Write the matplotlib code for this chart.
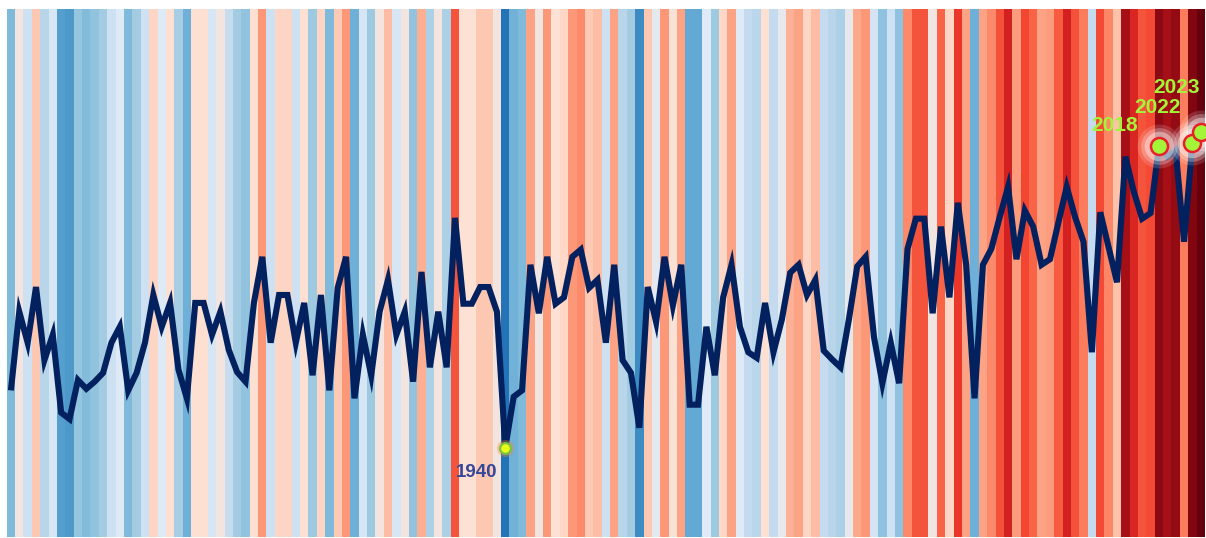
import numpy as np
import matplotlib
matplotlib.use("Agg")
import matplotlib.pyplot as plt
from matplotlib.colors import LinearSegmentedColormap, Normalize

# Annual mean temperature (°C), 1881-2023
years = list(range(1881, 2024))
temps = [
    7.35, 8.34, 7.95, 8.65, 7.73, 8.05, 7.07, 6.99, 7.48, 7.37,
    7.46, 7.57, 7.95, 8.15, 7.35, 7.57, 7.95, 8.55, 8.15, 8.45,
    7.61, 7.25, 8.45, 8.45, 8.05, 8.34, 7.86, 7.58, 7.46, 8.45,
    9.03, 7.95, 8.55, 8.55, 7.95, 8.45, 7.54, 8.55, 7.35, 8.64,
    9.03, 7.25, 8.05, 7.54, 8.34, 8.74, 8.05, 8.34, 7.46, 8.84,
    7.64, 8.34, 7.64, 9.52, 8.44, 8.44, 8.65, 8.65, 8.34, 6.63,
    7.27, 7.35, 8.93, 8.32, 9.03, 8.44, 8.52, 9.03, 9.12, 8.64,
    8.74, 7.95, 8.93, 7.73, 7.57, 6.88, 8.65, 8.21, 9.03, 8.42,
    8.93, 7.17, 7.17, 8.15, 7.54, 8.52, 8.93, 8.15, 7.83, 7.76,
    8.45, 7.83, 8.24, 8.83, 8.93, 8.55, 8.74, 7.85, 7.74, 7.64,
    8.24, 8.91, 9.03, 8.02, 7.44, 7.95, 7.44, 9.13, 9.51, 9.51,
    8.32, 9.41, 8.52, 9.71, 8.93, 7.25, 8.93, 9.13, 9.53, 9.91,
    9.00, 9.61, 9.41, 8.93, 9.00, 9.46, 9.91, 9.53, 9.22, 7.83,
    9.59, 9.15, 8.71, 10.29, 9.85, 9.51, 9.58, 10.42, 10.29, 10.37,
    9.22, 10.46, 10.60,
]
highlight_years = [2018, 2022, 2023]
low_year = 1940

stripe_colors = ['#08306b', '#08519c', '#2171b5', '#4292c6', '#6baed6', '#9ecae1',
                 '#c6dbef', '#deebf7', '#fee0d2', '#fcbba1', '#fc9272', '#fb6a4a',
                 '#ef3b2c', '#cb181d', '#a50f15', '#67000d']
cmap = LinearSegmentedColormap.from_list('stripes', stripe_colors)
norm = Normalize(vmin=6.0, vmax=10.6)

W, H = 1206, 538
fig = plt.figure(figsize=(W / 100, H / 100), dpi=100)
fig.patch.set_facecolor('white')
ax = fig.add_axes([6.7 / W, 1 / H, (1205 - 6.7) / W, (537 - 9) / H])

ymin, ymax = 5.506, 12.147
yr = np.array(years)
xedges = np.concatenate([yr - 0.5, [yr[-1] + 0.5]])
yedges = np.array([ymin, ymax])
ax.pcolormesh(xedges, yedges, np.array(temps)[None, :], cmap=cmap, norm=norm,
              shading='flat', antialiased=False, zorder=1)

ax.plot(years, temps, color='#03215e', lw=4.4, solid_joinstyle='miter',
        solid_capstyle='butt', zorder=3)

# highlighted recent years
hx = highlight_years
hy = [temps[years.index(y)] for y in hx]
for s, a in [(1000, 0.15), (700, 0.25), (450, 0.4)]:
    ax.scatter(hx, hy, s=s, color='white', alpha=a, lw=0, zorder=4)
ax.scatter(hx, hy, s=150, color='#a4f53a', edgecolor='#e8202a', lw=1.8, zorder=5)

offsets = {2018: (-21, 15), 2022: (-12, 30), 2023: (-1, 39)}
for y, v in zip(hx, hy):
    ax.annotate(str(y), (y, v), xytext=offsets[y], textcoords='offset pixels',
                ha='right', va='baseline', color='#a4f53a', fontsize=15,
                fontweight='bold', family=['Liberation Sans', 'DejaVu Sans'], zorder=6)

# coldest year
lv = temps[years.index(low_year)]
ax.scatter([low_year], [lv], s=150, color='#f08a30', alpha=0.35, lw=0, zorder=4)
ax.scatter([low_year], [lv], s=60, color='#e6ff1a', edgecolor='#7fbf40', lw=1.6, zorder=5)
ax.annotate(str(low_year), (low_year, lv), xytext=(-8, -29), textcoords='offset pixels',
            ha='right', va='baseline', color='#34489a', fontsize=13.5,
            fontweight='bold', family=['Liberation Sans', 'DejaVu Sans'], zorder=6)

ax.set_xlim(yr[0] - 0.5, yr[-1] + 0.5)
ax.set_ylim(ymin, ymax)
ax.axis('off')

fig.savefig('out.png', dpi=100, facecolor='white')
